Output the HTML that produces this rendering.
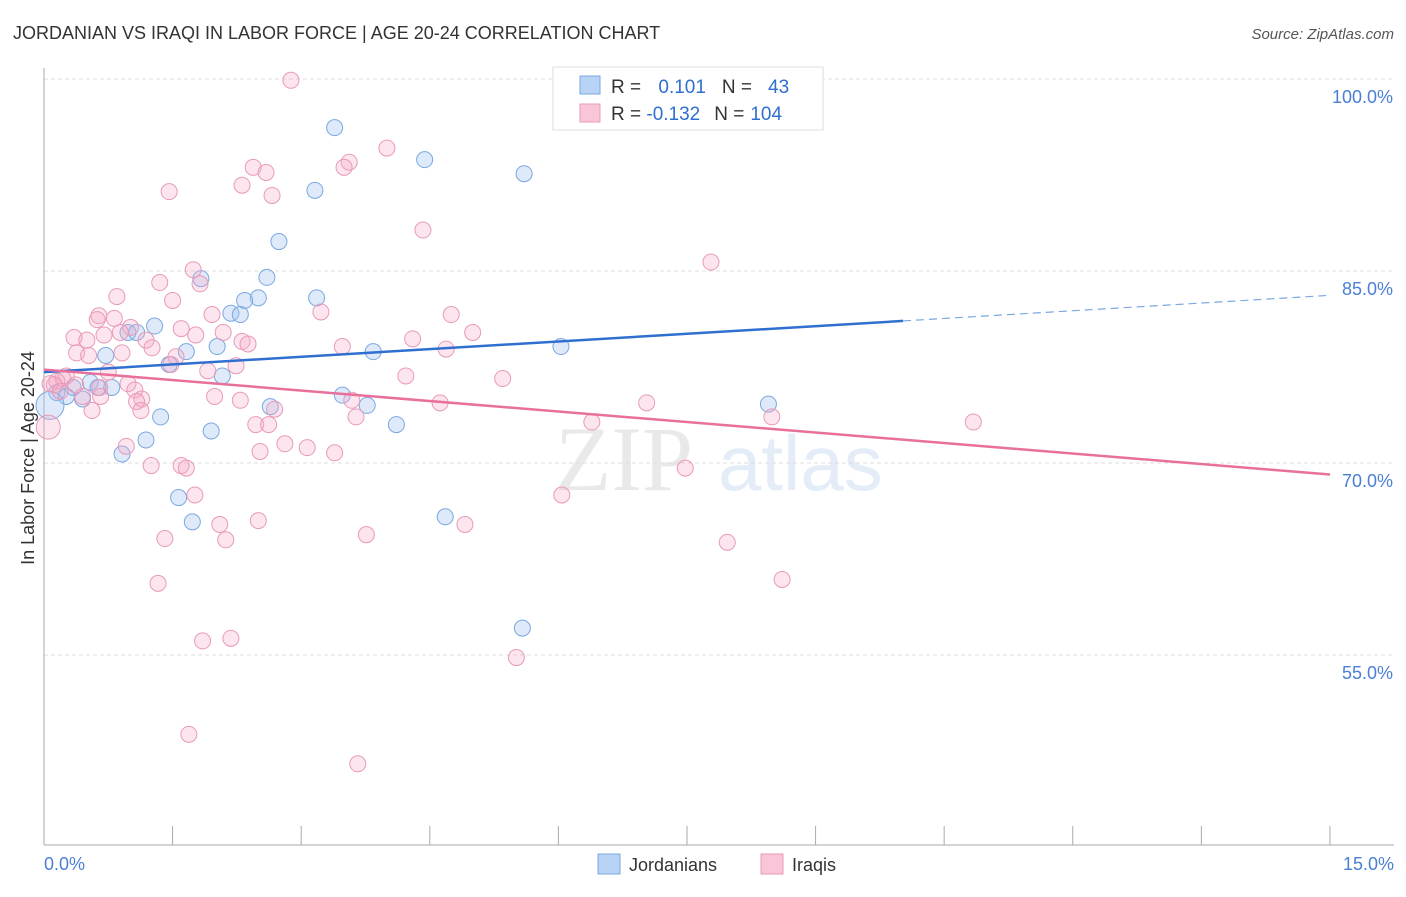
<!DOCTYPE html>
<html><head><meta charset="utf-8"><style>
body{margin:0;background:#fff;font-family:"Liberation Sans",sans-serif}
</style></head><body>
<svg id="chart" width="1406" height="892" xmlns="http://www.w3.org/2000/svg" font-family="Liberation Sans, sans-serif">
<text x="13" y="39" font-size="18" fill="#333">JORDANIAN VS IRAQI IN LABOR FORCE | AGE 20-24 CORRELATION CHART</text>
<text x="1394" y="39" font-size="15" fill="#555" text-anchor="end" font-style="italic">Source: ZipAtlas.com</text>
<g opacity="0.18">
<text x="555" y="490" font-size="92" font-family="Liberation Serif, serif" fill="#888">ZIP</text>
<text x="718" y="490" font-size="78" fill="#6a9ad8">atlas</text>
</g>
<g id="grid"></g><g id="axes"></g><g id="marks"></g>
<text transform="translate(34,458) rotate(-90)" font-size="18" fill="#333" text-anchor="middle">In Labor Force | Age 20-24</text>
<text x="44" y="870" font-size="18" fill="#4a7fd4">0.0%</text>
<text x="1394" y="870" font-size="18" fill="#4a7fd4" text-anchor="end">15.0%</text>
<g>
<rect x="553" y="67" width="270" height="63" fill="#fff" stroke="#ddd"/>
<rect x="580" y="76" width="20" height="18" fill="#b8d3f5" stroke="#7aa8e0"/>
<rect x="580" y="104" width="20" height="18" fill="#f8c6d8" stroke="#e89ab8"/>
<text x="611" y="93" font-size="19" fill="#333">R = <tspan fill="#2f6fd0" dx="12">0.101</tspan><tspan dx="16" fill="#333">N =</tspan><tspan fill="#2f6fd0" dx="16">43</tspan></text>
<text x="611" y="120" font-size="19" fill="#333">R = <tspan fill="#2f6fd0">-0.132</tspan><tspan dx="14" fill="#333">N =</tspan><tspan fill="#2f6fd0" dx="6">104</tspan></text>
</g>
<g>
<rect x="598" y="854" width="22" height="20" fill="#b8d3f5" stroke="#7aa8e0"/>
<text x="629" y="871" font-size="18" fill="#333">Jordanians</text>
<rect x="761" y="854" width="22" height="20" fill="#f8c6d8" stroke="#e89ab8"/>
<text x="792" y="871" font-size="18" fill="#333">Iraqis</text>
</g>
</svg>
<script>
const yTicks=[100,85,70,55];
const xTicks=[0,1.5,3,4.5,6,7.5,9,10.5,12,13.5,15];
const blueX=[3.39,4.44,5.60,3.16,2.74,2.60,1.83,3.18,2.50,2.34,2.18,2.29,1.29,0.98,1.08,0.72,2.02,1.66,3.84,6.03,1.46,0.54,0.34,0.79,0.63,0.15,0.26,0.45,2.08,3.48,3.77,8.45,2.64,1.36,1.19,1.95,4.11,0.91,1.57,1.73,4.68,5.58,0.07];
const blueY=[96.2,93.7,92.6,91.3,87.3,84.5,84.4,82.9,82.9,82.7,81.7,81.6,80.7,80.2,80.2,78.4,79.1,78.7,78.7,79.1,77.7,76.3,75.9,75.9,75.9,75.5,75.2,75.0,76.8,75.3,74.5,74.6,74.4,73.6,71.8,72.5,73.0,70.7,67.3,65.4,65.8,57.1,74.5];
const pinkX=[2.88,4.00,3.56,3.50,2.44,2.59,2.31,1.46,2.66,4.42,7.78,1.74,1.35,1.82,0.85,1.50,3.23,4.75,0.64,0.62,1.96,0.82,1.01,1.60,5.00,2.09,0.35,0.89,0.70,1.77,1.19,2.31,2.38,3.48,4.30,1.26,4.69,0.50,0.38,0.91,0.52,1.54,1.48,2.24,1.91,0.75,0.26,0.22,0.15,5.35,4.22,0.12,0.98,0.37,0.65,1.06,1.99,2.29,1.14,1.08,0.66,0.45,3.59,4.62,7.03,2.69,0.56,1.13,3.64,8.49,2.47,2.62,10.84,6.39,0.96,2.81,3.07,2.52,3.39,1.25,1.60,1.66,7.48,1.76,6.04,2.50,2.05,4.91,1.41,3.76,2.12,7.97,1.33,8.61,1.85,2.18,5.51,1.69,3.66,0.05,0.07,0.19];
const pinkY=[99.9,94.6,93.5,93.1,93.1,92.7,91.7,91.2,90.9,88.2,85.7,85.1,84.1,84.0,83.0,82.7,81.8,81.6,81.5,81.2,81.6,81.3,80.6,80.5,80.2,80.2,79.8,80.2,80.0,80.0,79.6,79.5,79.3,79.1,79.7,79.0,78.9,79.6,78.6,78.6,78.4,78.3,77.7,77.6,77.2,77.1,76.8,76.6,76.4,76.6,76.8,76.1,76.2,76.1,75.9,75.7,75.2,74.9,75.0,74.8,75.2,75.2,74.9,74.7,74.7,74.2,74.1,74.1,73.6,73.6,73.0,73.0,73.2,73.2,71.3,71.5,71.2,70.9,70.8,69.8,69.8,69.6,69.6,67.5,67.5,65.5,65.2,65.2,64.1,64.4,64.0,63.8,60.6,60.9,56.1,56.3,54.8,48.8,46.5,72.8,76.2,75.6];
const blueTrend=[77.1,81.1,83.1]; // at x=0, 10.02, 15
const pinkTrend=[77.3,69.1]; // at x=0, 15
const NS='http://www.w3.org/2000/svg';
const xs=v=>44+v*85.73, ys=v=>79+(100-v)*12.8;
function mk(tag,attrs,parent){const e=document.createElementNS(NS,tag);for(const k in attrs)e.setAttribute(k,attrs[k]);parent.appendChild(e);return e;}
const grid=document.getElementById('grid'),axes=document.getElementById('axes'),marks=document.getElementById('marks');
yTicks.forEach(t=>{
 const l=mk('line',{x1:44,x2:1394,y1:ys(t),y2:ys(t),stroke:'#ddd','stroke-dasharray':'4,3'},grid);
 
 
 const tx=mk('text',{x:1393,y:ys(t)+24,'font-size':18,fill:'#4a7fd4','text-anchor':'end'},grid);
 tx.textContent=t.toFixed(1)+'%';
 
 
});
const ya=mk('line',{x1:44,x2:44,y1:68,y2:845,stroke:'#aaa'},axes);


const xa=mk('line',{x1:44,x2:1394,y1:845,y2:845,stroke:'#aaa'},axes);


xTicks.forEach(t=>{
 const l=mk('line',{x1:xs(t),x2:xs(t),y1:826,y2:845,stroke:'#aaa'},axes);
 
 
});
blueX.forEach((x,i)=>{
 const c=mk('circle',{cx:xs(x),cy:ys(blueY[i]),r:i==blueX.length-1?14:8,fill:'rgba(160,196,240,0.35)',stroke:'#7aa8e0','stroke-width':1},marks);
 
 
});
pinkX.forEach((x,i)=>{
 const c=mk('circle',{cx:xs(x),cy:ys(pinkY[i]),r:i==pinkX.length-3?12:8,fill:'rgba(244,170,200,0.3)',stroke:'#e89ab8','stroke-width':1},marks);
 
 
});
const bl=mk('line',{x1:xs(0),y1:ys(blueTrend[0]),x2:xs(10.02),y2:ys(blueTrend[1]),stroke:'#2f6fd0','stroke-width':2.5},marks);


const bd=mk('line',{x1:xs(10.02),y1:ys(blueTrend[1]),x2:xs(15),y2:ys(blueTrend[2]),stroke:'#7aa8e0','stroke-width':1.2,'stroke-dasharray':'8,5'},marks);


const pl=mk('line',{x1:xs(0),y1:ys(pinkTrend[0]),x2:xs(15),y2:ys(pinkTrend[1]),stroke:'#e8709a','stroke-width':2.5},marks);


</script>
</body></html>
